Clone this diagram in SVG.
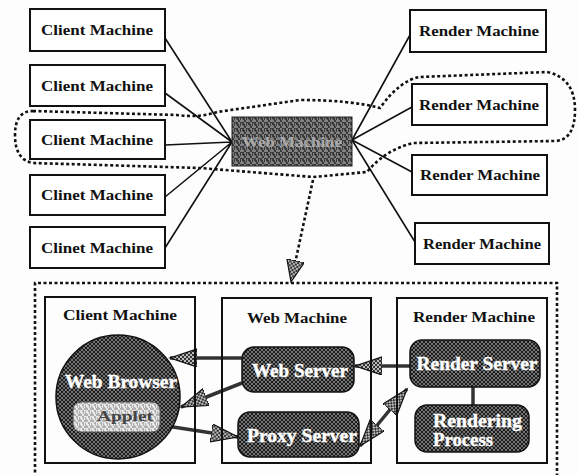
<svg xmlns="http://www.w3.org/2000/svg" width="578" height="475" viewBox="0 0 578 475">
<defs>
<pattern id="hatch" width="4" height="4" patternUnits="userSpaceOnUse">
<rect width="4" height="4" fill="#1c1c1c"/>
<path d="M0,0 L4,4 M4,0 L0,4" stroke="#8a8a8a" stroke-width="0.8"/>
</pattern>
<pattern id="hatchL" width="4" height="4" patternUnits="userSpaceOnUse">
<rect width="4" height="4" fill="#bbb"/>
<path d="M0,0 L4,4 M4,0 L0,4" stroke="#222" stroke-width="0.9"/>
</pattern>
<pattern id="grain" width="6" height="6" patternUnits="userSpaceOnUse">
<rect width="6" height="6" fill="#3a3a3a"/>
<path d="M0,1 h2 M3,0 v2 M1,4 h1 M4,3 h2 M2,5 v1 M5,5 h1" stroke="#c8c8c8" stroke-width="1"/>
</pattern>
<pattern id="grainL" width="6" height="6" patternUnits="userSpaceOnUse">
<rect width="6" height="6" fill="#e8e8e8"/>
<path d="M0,1 h2 M3,0 v2 M1,4 h1 M4,3 h2 M2,5 v1 M5,5 h1" stroke="#777" stroke-width="1"/>
</pattern>
<marker id="ah" markerUnits="userSpaceOnUse" markerWidth="30" markerHeight="20" refX="27" refY="9" orient="auto-start-reverse" viewBox="0 0 30 20">
<path d="M0,0 L27,9 L0,18 z" fill="url(#hatchL)" stroke="#111" stroke-width="1.2"/>
</marker>
<marker id="ahd" markerUnits="userSpaceOnUse" markerWidth="24" markerHeight="20" refX="22" refY="9" orient="auto" viewBox="0 0 24 20">
<path d="M0,0 L22,9 L0,18 z" fill="url(#hatchL)" stroke="#111" stroke-width="1.2"/>
</marker>
<style>
.box{fill:#fff;stroke:#111;stroke-width:2}
.lbl{font-family:"Liberation Serif",serif;font-weight:bold;font-size:15px;fill:#111}
.wt{font-family:"Liberation Serif",serif;font-weight:bold;font-size:18px;fill:#fff;stroke:#fff;stroke-width:0.4}
.srv{fill:url(#hatch);stroke:#111;stroke-width:1.5}
.thin{stroke:#111;stroke-width:1.6;fill:none}
.dot{stroke:#111;stroke-width:2.6;fill:none;stroke-dasharray:3 2.5}
.conn{stroke:#333;stroke-width:3.5;fill:none}
</style>
</defs>
<rect width="578" height="475" fill="#fdfdfd"/>

<g id="connectors">
<path class="thin" d="M165,38 L232,142 M165,93 L232,142 M165,145 L232,142 M165,197 L232,142 M165,248 L232,142"/>
<path class="thin" d="M352,140 L410,35 M352,140 L412,107 M352,140 L412,172 M352,140 L415,242"/>
<path class="dot" d="M33,111 L177,115 Q200,118 217,112 L300,100 Q350,100 380,108 Q400,80 420,77 L547,72 Q575,78 575,110 Q575,140 555,141 L413,143 Q385,150 367,172 L313,177 L200,168 L33,163 Q15,160 15,135 Q15,111 33,111 Z"/>
<path class="dot" d="M313,180 L291,282" marker-end="url(#ahd)"/>
<path class="dot" d="M35,478 V283 H557 V478"/>
<path class="conn" d="M242,358 L170,358" marker-end="url(#ah)"/>
<path class="conn" d="M242,383 L181,407" marker-end="url(#ah)"/>
<path class="conn" d="M160,425 L238,437" marker-end="url(#ah)"/>
<path class="conn" d="M410,366 L355,366" marker-end="url(#ah)"/>
<path class="conn" d="M360,446 L407,389" marker-start="url(#ah)" marker-end="url(#ah)"/>
<path class="conn" d="M473,387 V405"/>
</g>

<g id="client1"><rect class="box" x="30" y="9" width="135" height="42"/><text class="lbl" x="97" y="35" text-anchor="middle" textLength="112" lengthAdjust="spacingAndGlyphs">Client Machine</text></g>
<g id="client2"><rect class="box" x="30" y="65" width="135" height="41"/><text class="lbl" x="97" y="91" text-anchor="middle" textLength="112" lengthAdjust="spacingAndGlyphs">Client Machine</text></g>
<g id="client3"><rect class="box" x="30" y="120" width="135" height="39"/><text class="lbl" x="97" y="145" text-anchor="middle" textLength="112" lengthAdjust="spacingAndGlyphs">Client Machine</text></g>
<g id="client4"><rect class="box" x="30" y="175" width="135" height="40"/><text class="lbl" x="97" y="200" text-anchor="middle" textLength="112" lengthAdjust="spacingAndGlyphs">Clinet Machine</text></g>
<g id="client5"><rect class="box" x="30" y="227" width="135" height="41"/><text class="lbl" x="97" y="253" text-anchor="middle" textLength="112" lengthAdjust="spacingAndGlyphs">Clinet Machine</text></g>

<g id="web-machine"><rect x="232" y="117" width="120" height="49" fill="url(#grain)" stroke="#222" stroke-width="1"/><text x="292" y="147" text-anchor="middle" font-family="Liberation Serif, serif" font-weight="bold" font-size="15" fill="#aaa" textLength="100" lengthAdjust="spacingAndGlyphs">Web Machine</text></g>

<g id="render1"><rect class="box" x="410" y="10" width="136" height="42"/><text class="lbl" x="479" y="36" text-anchor="middle" textLength="120" lengthAdjust="spacingAndGlyphs">Render Machine</text></g>
<g id="render2"><rect class="box" x="412" y="84" width="135" height="41"/><text class="lbl" x="479" y="110" text-anchor="middle" textLength="120" lengthAdjust="spacingAndGlyphs">Render Machine</text></g>
<g id="render3"><rect class="box" x="412" y="155" width="135" height="40"/><text class="lbl" x="480" y="180" text-anchor="middle" textLength="120" lengthAdjust="spacingAndGlyphs">Render Machine</text></g>
<g id="render4"><rect class="box" x="415" y="223" width="134" height="41"/><text class="lbl" x="482" y="249" text-anchor="middle" textLength="118" lengthAdjust="spacingAndGlyphs">Render Machine</text></g>

<g id="client-machine-detail"><rect class="box" x="45" y="297" width="150" height="166" style="fill:none"/><text class="lbl" x="120" y="320" text-anchor="middle" textLength="114" lengthAdjust="spacingAndGlyphs">Client Machine</text></g>
<g id="web-machine-detail"><rect class="box" x="222" y="298" width="149" height="165" style="fill:none"/><text class="lbl" x="297" y="323" text-anchor="middle" textLength="100" lengthAdjust="spacingAndGlyphs">Web Machine</text></g>
<g id="render-machine-detail"><rect class="box" x="397" y="298" width="150" height="165" style="fill:none"/><text class="lbl" x="474" y="322" text-anchor="middle" textLength="122" lengthAdjust="spacingAndGlyphs">Render Machine</text></g>

<g id="web-browser"><circle cx="118" cy="397" r="62" fill="url(#hatch)" stroke="#111" stroke-width="1.5"/><text class="wt" x="121" y="388" text-anchor="middle" textLength="112" lengthAdjust="spacingAndGlyphs">Web Browser</text></g>
<g id="applet"><rect x="73" y="402" width="87" height="30" rx="8" fill="url(#grainL)" stroke="#555" stroke-width="1"/><text x="125" y="421" text-anchor="middle" font-family="Liberation Serif, serif" font-weight="bold" font-size="15" fill="#444" textLength="56" lengthAdjust="spacingAndGlyphs">Applet</text></g>
<g id="web-server"><rect class="srv" x="242" y="347" width="112" height="45" rx="12"/><text class="wt" x="300" y="377" text-anchor="middle" textLength="96" lengthAdjust="spacingAndGlyphs">Web Server</text></g>
<g id="proxy-server"><rect class="srv" x="238" y="412" width="121" height="45" rx="12"/><text class="wt" x="302" y="442" text-anchor="middle" textLength="110" lengthAdjust="spacingAndGlyphs">Proxy Server</text></g>
<g id="render-server"><rect class="srv" x="410" y="340" width="130" height="47" rx="12"/><text class="wt" x="477" y="370" text-anchor="middle" textLength="121" lengthAdjust="spacingAndGlyphs">Render Server</text></g>
<g id="rendering-process"><rect class="srv" x="415" y="405" width="114" height="47" rx="12"/><text class="wt" x="433" y="427" textLength="89" lengthAdjust="spacingAndGlyphs">Rendering</text><text class="wt" x="433" y="446" textLength="60" lengthAdjust="spacingAndGlyphs">Process</text></g>
</svg>
